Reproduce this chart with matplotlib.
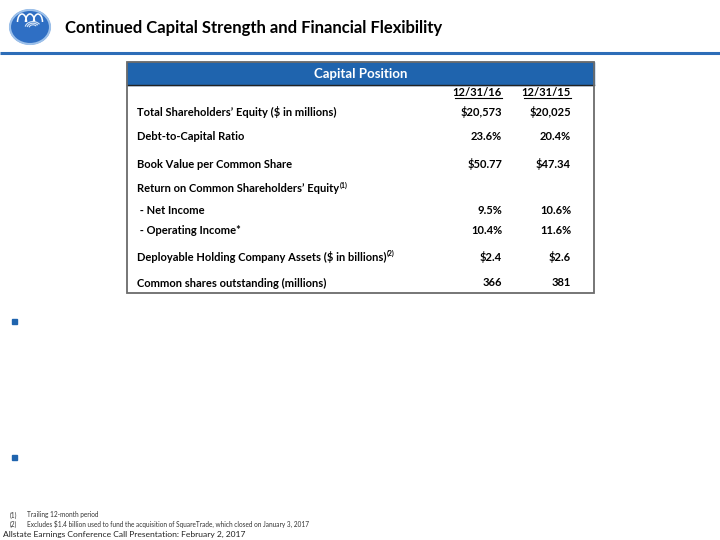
import matplotlib.pyplot as plt
from matplotlib.patches import Rectangle, Ellipse, Arc

plt.rcParams['font.family'] = ['Lato', 'DejaVu Sans']

title = "Continued Capital Strength and Financial Flexibility"
table_title = "Capital Position"
col_dates = ["12/31/16", "12/31/15"]

row_labels = [
    "Total Shareholders’ Equity ($ in millions)",
    "Debt-to-Capital Ratio",
    "Book Value per Common Share",
    "Return on Common Shareholders’ Equity",
    " - Net Income",
    " - Operating Income*",
    "Deployable Holding Company Assets ($ in billions)",
    "Common shares outstanding (millions)",
]
row_notes = ["", "", "", "(1)", "", "", "(2)", ""]
vals_16 = ["$20,573", "23.6%", "$50.77", "", "9.5%", "10.4%", "$2.4", "366"]
vals_15 = ["$20,025", "20.4%", "$47.34", "", "10.6%", "11.6%", "$2.6", "381"]

footnotes = [
    ("(1)", "Trailing 12-month period"),
    ("(2)", "Excludes $1.4 billion used to fund the acquisition of SquareTrade, which closed on January 3, 2017"),
]
footer = "Allstate Earnings Conference Call Presentation: February 2, 2017"

blue = "#1f64ae"

fig = plt.figure(figsize=(7.2, 5.4), dpi=100)
ax = fig.add_axes([0, 0, 1, 1])
ax.set_xlim(0, 720)
ax.set_ylim(540, 0)
ax.axis("off")

# logo
disc = Ellipse((30, 27), 40, 34, color="#2f6fc4")
ax.add_patch(disc)
for dx in (-8, 0, 8):
    a = Arc((30 + dx, 22), 9, 16, theta1=180, theta2=360, color="white", lw=1.1)
    ax.add_patch(a)
    a.set_clip_path(disc)
for r in (8, 12, 16):
    a = Arc((33, 28), r, r * 0.8, theta1=190, theta2=330, color="#d9e7f7", lw=0.8)
    ax.add_patch(a)
    a.set_clip_path(disc)
ax.add_patch(Ellipse((30, 27), 40, 34, fill=False, ec="#9cc0ea", lw=1.5))

ax.text(65, 28, title, fontsize=12, fontweight="bold", va="center", ha="left")
ax.plot([0, 720], [52.5, 52.5], color="#2d6db8", lw=2.2, solid_capstyle="butt")

# table
x0, x1, y0, y1 = 126.5, 594, 61.5, 293
ax.add_patch(Rectangle((x0, y0), x1 - x0, 23, color=blue, zorder=2))
ax.plot([x0, x1], [y0 + 23, y0 + 23], color="#222222", lw=1, zorder=3)
ax.add_patch(Rectangle((x0, y0), x1 - x0, y1 - y0, fill=False, ec="#6b6b6b", lw=1.3, zorder=4))
ax.text((x0 + x1) / 2, 74, table_title, color="white", fontsize=9.5, fontweight="bold",
        ha="center", va="center", zorder=5)

col_x = [502, 571]
for cx, d in zip(col_x, col_dates):
    ax.text(cx, 92, d, fontsize=8, fontweight="bold", ha="right", va="center")
    ax.plot([cx - 47, cx], [98, 98], color="black", lw=0.8)

row_y = [112, 136, 164, 189, 210, 231, 257, 283]
for y, lab, note, v16, v15 in zip(row_y, row_labels, row_notes, vals_16, vals_15):
    t = ax.text(137, y, lab, fontsize=8, fontweight="bold", ha="left", va="center")
    if note:
        ax.annotate(note, xy=(1, 0.5), xycoords=t, xytext=(0.5, 0), textcoords="offset points",
                    fontsize=5, fontweight="bold", ha="left", va="bottom")
    ax.text(col_x[0], y, v16, fontsize=8, fontweight="bold", ha="right", va="center")
    ax.text(col_x[1], y, v15, fontsize=8, fontweight="bold", ha="right", va="center")

# bullets
for by in (321, 457):
    ax.add_patch(Rectangle((12, by - 2.5), 5, 5, color=blue))

# footnotes
for fy, (num, txt) in zip((515, 524), footnotes):
    ax.text(10, fy, num, fontsize=4.7, color="#333333", va="center")
    ax.text(27, fy, txt, fontsize=4.7, color="#333333", va="center")
ax.text(3, 534.5, footer, fontsize=6.1, color="#222222", va="center")

fig.savefig("out.png", dpi=100)
